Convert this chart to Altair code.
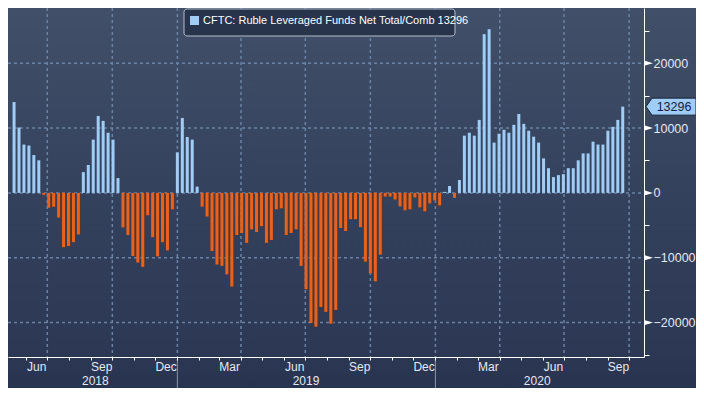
import altair as alt
import numpy as np
import pandas as pd

SERIES_NAME = "CFTC: Ruble Leveraged Funds Net Total/Comb"
START_DATE = "2018-05-15"  # weekly CFTC report dates (Tuesdays)
values = [14000, 10080, 7450, 7300, 5830, 5020, -300, -2280, -2130, -3800,
          -8360, -8200, -7600, -6400, 3200, 4300, 8210, 11860, 11100, 9270,
          8200, 2280, -5320, -6490, -9730, -10740, -11400, -3450, -6840, -9780,
          -7600, -8870, -2530, 6230, 11550, 8610, 8210, 960, -2130, -3650,
          -8970, -11040, -11250, -12560, -14440, -6490, -6180, -7700, -5620, -6030,
          -5120, -7700, -7250, -2530, -2380, -6490, -6180, -5620, -11250, -14850,
          -20060, -20620, -17580, -18340, -20160, -18040, -5420, -5880, -4050, -4050,
          -5270, -10590, -12410, -13630, -9530, -560, -560, -1010, -2080, -2690,
          -2530, -710, -2230, -2840, -1620, -1160, -1930, 150, 1060, -760,
          1980, 8820, 9270, 8820, 11250, 24470, 25230, 7750, 9120, 9730,
          9270, 10490, 12160, 10640, 9580, 8660, 7750, 5320, 3800, 2430,
          2740, 2890, 3800, 3800, 5020, 6080, 6080, 7900, 7450, 7450,
          9580, 10180, 11250, 13296]

month_labels = ["Jun", "Sep", "Dec", "Mar", "Jun", "Sep", "Dec", "Mar", "Jun", "Sep"]
month_label_dates = ["2018-06-16", "2018-09-16", "2018-12-16", "2019-03-16", "2019-06-16",
                     "2019-09-16", "2019-12-16", "2020-03-16", "2020-06-16", "2020-09-16"]
year_labels = ["2018", "2019", "2020"]
year_label_dates = ["2018-09-07", "2019-07-02", "2020-05-24"]
year_breaks = ["2019-01-01", "2020-01-01"]
quarter_dates = ["2018-07-01", "2018-10-01", "2019-01-01", "2019-04-01", "2019-07-01",
                 "2019-10-01", "2020-01-01", "2020-04-01", "2020-07-01", "2020-10-01"]
y_major = [-20000, -10000, 0, 10000, 20000]
y_ticks = [-25000, -20000, -15000, -10000, -5000, 0, 5000, 10000, 15000, 20000, 25000]

W, H = 636, 349
PR, PB = 52, 31
BLUE = "#9fcdf6"
ORANGE = "#e8621d"
SHADOW = "#5b3627"
FONT = "Liberation Sans, Arial, sans-serif"
TEXT = "#e4e9f0"
GRID = "#6a83a5"

xscale = alt.Scale(domain=[alt.DateTime(year=2018, month=5, date=13, hours=12),
                           alt.DateTime(year=2020, month=10, date=15)])
yscale = alt.Scale(domain=[-25300, 28500], nice=False, zero=False)

df = pd.DataFrame({"date": pd.date_range(START_DATE, periods=len(values), freq="7D"),
                   "value": values})
df["sign"] = np.where(df["value"] >= 0, "pos", "neg")
neg = df[df["value"] < 0]

month_ticks = [alt.DateTime(year=d.year, month=d.month, date=1)
               for d in pd.date_range("2018-06-01", "2020-10-01", freq="MS")]

xaxis = alt.Axis(values=month_ticks, labels=False, grid=False, title=None, zindex=1,
                 domainColor="white", domainWidth=1, tickColor="white", tickSize=3)
yaxis = alt.Axis(orient="right", values=y_ticks, grid=False, title=None, zindex=1,
                 labelExpr="datum.value % 10000 == 0 ? format(datum.value, 'd') : ''",
                 domainColor="white", domainWidth=1, tickColor="white", tickSize=5,
                 labelPadding=4, labelColor=TEXT, labelFontSize=12.5, labelFont=FONT,
                 labelOverlap=False, labelAlign="left", labelBaseline="middle")


def X(field):
    return alt.X(field, scale=xscale, axis=xaxis, title=None)


def Y(field):
    return alt.Y(field, scale=yscale, axis=yaxis, title=None)


one = pd.DataFrame({"a": [0]})

bg = alt.Chart(one).mark_rect(
    fill=alt.Gradient(gradient="linear",
                      stops=[alt.GradientStop(color="#414f69", offset=0),
                             alt.GradientStop(color="#34415c", offset=0.5),
                             alt.GradientStop(color="#2c3854", offset=0.9),
                             alt.GradientStop(color="#283350", offset=1)],
                      x1=0, x2=0, y1=0, y2=1)
).encode(x=alt.value(0), x2=alt.value(W + PR), y=alt.value(0), y2=alt.value(H + PB))

vgrid = alt.Chart(pd.DataFrame({"date": pd.to_datetime(quarter_dates)})).mark_rule(
    strokeDash=[3, 3], strokeWidth=1.5
).encode(x=X("date:T"), y=alt.value(0), y2=alt.value(H), color=alt.value(GRID))

hgrid = alt.Chart(pd.DataFrame({"value": y_major})).mark_rule(
    strokeDash=[3, 3], strokeWidth=1.5
).encode(y=Y("value:Q"), x=alt.value(0), x2=alt.value(W), color=alt.value(GRID))

shadow = alt.Chart(neg).mark_bar(size=3, xOffset=1, clip=True).encode(
    x=X("date:T"), y=Y("value:Q"), y2=alt.datum(0), color=alt.value(SHADOW),
)

bars = alt.Chart(df).mark_bar(size=3, clip=True).encode(
    x=X("date:T"), y=Y("value:Q"), y2=alt.datum(0),
    color=alt.Color("sign:N", scale=alt.Scale(domain=["pos", "neg"], range=[BLUE, ORANGE]),
                    legend=None),
)

ysep = alt.Chart(pd.DataFrame({"date": pd.to_datetime(year_breaks)})).mark_rule(
    strokeWidth=1
).encode(x=X("date:T"), y=alt.value(H + 2), y2=alt.value(H + PB), color=alt.value("#8a96a8"))

mtext = alt.Chart(pd.DataFrame({"date": pd.to_datetime(month_label_dates),
                                "label": month_labels})).mark_text(
    font=FONT, fontSize=12, color=TEXT, align="center", baseline="middle"
).encode(x=X("date:T"), y=alt.value(H + 10), text="label:N")

ytext = alt.Chart(pd.DataFrame({"date": pd.to_datetime(year_label_dates),
                                "label": year_labels})).mark_text(
    font=FONT, fontSize=12, color=TEXT, align="center", baseline="middle"
).encode(x=X("date:T"), y=alt.value(H + 24), text="label:N")

tri = alt.Chart(pd.DataFrame({"value": y_major})).mark_point(
    shape="M -1 -0.6 L 1 0 L -1 0.6 Z", size=81, filled=True, color="white", opacity=1
).encode(x=alt.value(W + 4.5), y=Y("value:Q"))

last = pd.DataFrame({"value": [values[-1]], "label": [str(values[-1])]})
tag = alt.Chart(last).mark_point(
    shape="M -1 0 L -0.76 -0.34 L 1 -0.34 L 1 0.34 L -0.76 0.34 Z", size=2500,
    filled=True, fill=BLUE, stroke="#1a2438", strokeWidth=1, opacity=1
).encode(x=alt.value(W + 27), y=Y("value:Q"))
tagtext = alt.Chart(last).mark_text(
    font=FONT, fontSize=12.5, color="#16223a", align="center", baseline="middle"
).encode(x=alt.value(W + 30), y=Y("value:Q"), text="label:N")

legdf = pd.DataFrame({"label": [f"{SERIES_NAME} {values[-1]}"]})
legbox = alt.Chart(one).mark_rect(
    fill="#28334c", stroke="#b4bdcb", strokeWidth=1, cornerRadius=3
).encode(x=alt.value(176), x2=alt.value(447), y=alt.value(1), y2=alt.value(28))
legsq = alt.Chart(one).mark_rect(fill=BLUE).encode(
    x=alt.value(182), x2=alt.value(191), y=alt.value(8), y2=alt.value(17))
legtext = alt.Chart(legdf).mark_text(
    font=FONT, fontSize=11, color="white", align="left", baseline="middle"
).encode(x=alt.value(195), y=alt.value(13), text="label:N")

chart = alt.layer(
    bg, vgrid, hgrid, shadow, bars, ysep, mtext, ytext, tri, tag, tagtext,
    legbox, legsq, legtext
).properties(
    width=W, height=H,
    padding={"left": 0, "top": 0, "right": PR, "bottom": PB},
    autosize=alt.AutoSizeParams(type="none"),
).configure(background="#283350").configure_view(strokeOpacity=0)

chart.save("out.html", embed_options={"renderer": "svg", "actions": False})
